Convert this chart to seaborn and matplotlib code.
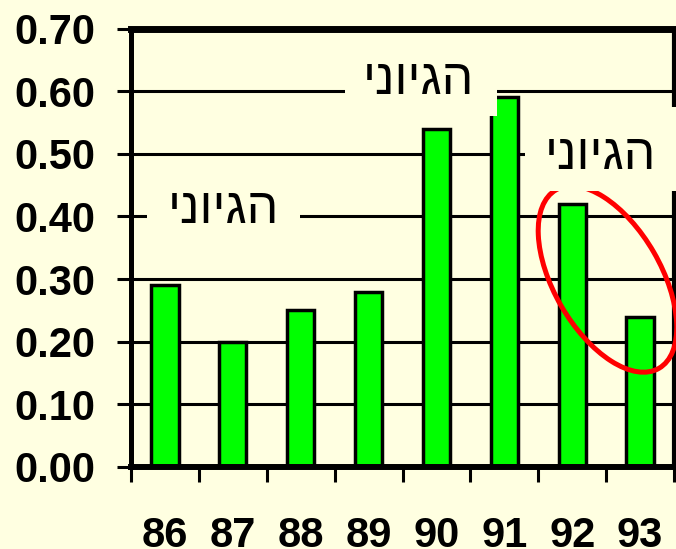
import matplotlib
matplotlib.use("Agg")
import matplotlib.pyplot as plt
import numpy as np
import pandas as pd
import seaborn as sns
from matplotlib.patches import Rectangle, Ellipse
from matplotlib.transforms import ScaledTranslation

# ---- data ----
years = ["86", "87", "88", "89", "90", "91", "92", "93"]
values = [0.29, 0.20, 0.25, 0.28, 0.54, 0.59, 0.42, 0.24]
y_ticks = [0.00, 0.10, 0.20, 0.30, 0.40, 0.50, 0.60, 0.70]
y_tick_labels = [f"{v:.2f}" for v in y_ticks]
note_word = "הגיוני"

# ---- style ----
BG = "#FFFFE1"
BAR = "#00FF00"
sns.set_style("white")
plt.rcParams["font.family"] = ["Liberation Sans", "DejaVu Sans"]

fig = plt.figure(figsize=(6.76, 5.49), dpi=100, facecolor=BG)
ax = fig.add_axes([131 / 676, 82 / 549, 543 / 676, 438.5 / 549])
ax.set_facecolor(BG)

df = pd.DataFrame({"year": years, "value": values})
sns.barplot(data=df, x="year", y="value", color=BAR, saturation=1,
            width=0.4, edgecolor="black", linewidth=2.5, ax=ax, zorder=2)

ax.set_xlim(-0.5, len(years) - 0.5)
ax.set_ylim(0, 0.70)
ax.set_xlabel("")
ax.set_ylabel("")

# y axis: gridlines at every tick, bold labels
ax.set_yticks(y_ticks)
ax.set_yticklabels(y_tick_labels, fontsize=30, fontweight="bold", color="black")
ax.yaxis.grid(True, color="black", linewidth=2.2)
ax.set_axisbelow(True)
ax.tick_params(axis="y", which="major", left=True, length=10, width=2.2,
               color="black", pad=16, direction="out")

# x axis: tick marks between categories, labels centred under bars
ax.set_xticks(np.arange(-0.5, len(years), 1.0))
ax.set_xticklabels([])
ax.set_xticks(np.arange(len(years)), minor=True)
ax.set_xticklabels(years, minor=True, fontsize=30, fontweight="bold", color="black")
ax.tick_params(axis="x", which="major", bottom=True, length=11, width=2.2,
               color="black", direction="out")
ax.tick_params(axis="x", which="minor", bottom=True, length=0, pad=35)

for side, lw in {"left": 3.6, "bottom": 4.3, "top": 5.0, "right": 3.0}.items():
    ax.spines[side].set_visible(True)
    ax.spines[side].set_color("black")
    ax.spines[side].set_linewidth(lw)

# red ring around the last two years
ring = Ellipse((0, 0), 2.06, 1.07, angle=-60, fill=False, edgecolor="red",
               linewidth=3.6, zorder=3, clip_on=False,
               transform=fig.dpi_scale_trans + ScaledTranslation(6.52, 0.30, ax.transData))
ax.add_patch(ring)

# text notes on opaque backgrounds: (x0, x1, y0, y1, text x, text baseline)
notes = [
    (-0.264, 1.989, 0.355, 0.486, 0.855, 0.390),
    (2.650, 4.890, 0.560, 0.690, 3.730, 0.595),
    (5.300, 7.700, 0.440, 0.574, 6.410, 0.475),
]
shown_word = note_word[::-1]  # glyphs are laid out left to right
for x0, x1, y0, y1, tx, ty in notes:
    ax.add_patch(Rectangle((x0, y0), x1 - x0, y1 - y0, facecolor=BG,
                           edgecolor="none", zorder=4, clip_on=False))
    ax.text(tx, ty, shown_word, ha="center", va="baseline", fontsize=36,
            color="black", zorder=5, clip_on=False)

fig.savefig("out.png", dpi=100, facecolor=BG)
